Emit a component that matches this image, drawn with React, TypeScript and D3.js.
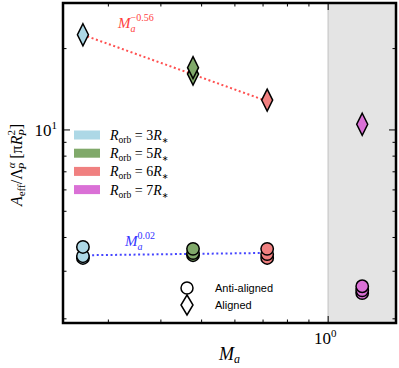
import React from "react";
import * as d3 from "d3";

const W = 399;
const H = 368;
const MARGIN = { top: 3, right: 3, bottom: 45, left: 63 };

// Alfvén Mach number for each orbit
const machAlfven = [0.261, 0.477, 0.716, 1.205];
const orbitLabels = ["3", "5", "6", "7"];
const orbitColors = ["#add8e6", "#80a96a", "#f08080", "#da70d6"];

// effective area values (several overlapping runs per orbit)
const antiAligned = [
  [3.36, 3.41, 3.69],
  [3.44, 3.5, 3.63],
  [3.36, 3.47, 3.63],
  [2.49, 2.55, 2.64],
];
const aligned = [[22.5], [16.1, 17.0], [12.9], [10.5]];

// power-law fits: amplitude, exponent, x-range
const fitAligned = { amp: 10.6, exp: -0.56, from: 0.261, to: 0.716 };
const fitAnti = { amp: 3.53, exp: 0.02, from: 0.261, to: 0.716 };

const xMajor = [1];
const xMinor = [0.3, 0.4, 0.5, 0.6, 0.7, 0.8, 0.9];
const yMajor = [10];
const yMinor = [2, 3, 4, 5, 6, 7, 8, 9, 20];

const SERIF = "'Liberation Serif', 'DejaVu Serif', serif";
const SANS = "'Liberation Sans', Arial, sans-serif";

const diamond = (cx: number, cy: number, w = 5.5, h = 11) =>
  `M${cx},${cy - h}L${cx + w},${cy}L${cx},${cy + h}L${cx - w},${cy}Z`;

export default function App() {
  const x = d3
    .scaleLog()
    .domain([0.234, 1.45])
    .range([MARGIN.left, W - MARGIN.right]);
  const y = d3
    .scaleLog()
    .domain([1.93, 29.5])
    .range([H - MARGIN.bottom, MARGIN.top]);

  const [x0, x1] = x.range();
  const [y0, y1] = y.range();

  const fitLine = (f: typeof fitAligned) => {
    const pts = d3.range(0, 21).map((i) => {
      const m = f.from * Math.pow(f.to / f.from, i / 20);
      return [m, f.amp * Math.pow(m, f.exp)] as [number, number];
    });
    return d3
      .line<[number, number]>()
      .x((d) => x(d[0]))
      .y((d) => y(d[1]))(pts);
  };

  const ticks = (vals: number[], len: number) => (
    <g stroke="#000" strokeWidth={1}>
      {vals.map((v) => (
        <g key={"x" + v}>
          <line x1={x(v)} x2={x(v)} y1={y0} y2={y0 - len} />
          <line x1={x(v)} x2={x(v)} y1={y1} y2={y1 + len} />
        </g>
      ))}
    </g>
  );
  const yticks = (vals: number[], len: number) => (
    <g stroke="#000" strokeWidth={1}>
      {vals.map((v) => (
        <g key={"y" + v}>
          <line x1={x0} x2={x0 + len} y1={y(v)} y2={y(v)} />
          <line x1={x1} x2={x1 - len} y1={y(v)} y2={y(v)} />
        </g>
      ))}
    </g>
  );

  return (
    <svg
      width={W}
      height={H}
      style={{ position: "absolute", left: 0, top: 0, background: "#fff" }}
    >
      {/* super-Alfvénic shaded area */}
      <rect x={x(1)} y={y1} width={x1 - x(1)} height={y0 - y1} fill="#e4e4e4" />
      <line x1={x(1)} x2={x(1)} y1={y1} y2={y0} stroke="#cfcfcf" strokeWidth={1.5} />

      {/* fits */}
      <path
        d={fitLine(fitAligned) || ""}
        fill="none"
        stroke="#ff5050"
        strokeWidth={2}
        strokeDasharray="2,2.6"
      />
      <path
        d={fitLine(fitAnti) || ""}
        fill="none"
        stroke="#4545ff"
        strokeWidth={2}
        strokeDasharray="2,2.6"
      />
      <text x={118} y={28} fill="#ff4040" fontFamily={SERIF} fontSize={15} fontStyle="italic">
        M
        <tspan fontSize={10} dy={4}>a</tspan>
        <tspan fontSize={10} fontStyle="normal" dx={-5} dy={-11}>−0.56</tspan>
      </text>
      <text x={125} y={246} fill="#3535ff" fontFamily={SERIF} fontSize={15} fontStyle="italic">
        M
        <tspan fontSize={10} dy={4}>a</tspan>
        <tspan fontSize={10} fontStyle="normal" dx={-5} dy={-11}>0.02</tspan>
      </text>

      {/* anti-aligned markers */}
      {antiAligned.map((vals, i) =>
        vals.map((v, j) => (
          <circle
            key={`c${i}-${j}`}
            cx={x(machAlfven[i])}
            cy={y(v)}
            r={6.2}
            fill={orbitColors[i]}
            stroke="#000"
            strokeWidth={1.5}
          />
        ))
      )}
      {/* aligned markers */}
      {aligned.map((vals, i) =>
        vals.map((v, j) => (
          <path
            key={`d${i}-${j}`}
            d={diamond(x(machAlfven[i]), y(v))}
            fill={orbitColors[i]}
            stroke="#000"
            strokeWidth={1.5}
            strokeLinejoin="miter"
          />
        ))
      )}

      {/* colour legend */}
      {orbitLabels.map((lab, i) => {
        const cy = 135 + i * 18.2;
        return (
          <g key={lab}>
            <rect x={74} y={cy - 4.5} width={26} height={9} fill={orbitColors[i]} />
            <text x={110} y={cy + 5} fontFamily={SERIF} fontSize={14} fontStyle="italic">
              R
              <tspan fontSize={9.5} fontStyle="normal" dy={3}>orb</tspan>
              <tspan fontStyle="normal" dy={-3}> = {lab}</tspan>
              <tspan>R</tspan>
              <tspan fontSize={8} fontStyle="normal" fontFamily="'DejaVu Sans', sans-serif" dy={3}>∗</tspan>
            </text>
          </g>
        );
      })}

      {/* marker legend */}
      <circle cx={187} cy={288} r={6} fill="none" stroke="#000" strokeWidth={1.5} />
      <text x={215} y={292} fontFamily={SANS} fontSize={11}>Anti-aligned</text>
      <path d={diamond(187, 305, 6, 10)} fill="none" stroke="#000" strokeWidth={1.5} />
      <text x={215} y={309} fontFamily={SANS} fontSize={11}>Aligned</text>

      {/* ticks */}
      {ticks(xMinor, 3.5)}
      {ticks(xMajor, 7)}
      {yticks(yMinor, 3.5)}
      {yticks(yMajor, 7)}

      {/* frame */}
      <rect
        x={x0}
        y={y1}
        width={x1 - x0}
        height={y0 - y1}
        fill="none"
        stroke="#000"
        strokeWidth={2.5}
      />

      {/* tick labels */}
      {xMajor.map((v) => (
        <text key={"xl" + v} x={x(v) - 3} y={y0 + 21} textAnchor="middle" fontFamily={SERIF} fontSize={17}>
          10<tspan fontSize={11} dy={-7}>0</tspan>
        </text>
      ))}
      {yMajor.map((v) => (
        <text key={"yl" + v} x={x0 - 6} y={y(v) + 6} textAnchor="end" fontFamily={SERIF} fontSize={17}>
          10<tspan fontSize={11} dy={-7}>1</tspan>
        </text>
      ))}

      {/* axis labels */}
      <text x={219} y={360} fontFamily={SERIF} fontSize={18} fontStyle="italic">
        M<tspan fontSize={12} dy={3}>a</tspan>
      </text>
      <text
        transform="translate(22,165) rotate(-90)"
        textAnchor="middle"
        fontFamily={SERIF}
        fontSize={16}
      >
        <tspan fontStyle="italic">A</tspan>
        <tspan fontSize={11} dy={3}>eff</tspan>
        <tspan dy={-3}>/Λ</tspan>
        <tspan fontSize={11} fontStyle="italic" dy={-7}>α</tspan>
        <tspan fontSize={11} fontStyle="italic" dx={-7} dy={11}>P</tspan>
        <tspan dy={-4}> [π</tspan>
        <tspan fontStyle="italic">R</tspan>
        <tspan fontSize={11} dy={-7}>2</tspan>
        <tspan fontSize={11} fontStyle="italic" dx={-6} dy={11}>P</tspan>
        <tspan dy={-4}>]</tspan>
      </text>
    </svg>
  );
}
